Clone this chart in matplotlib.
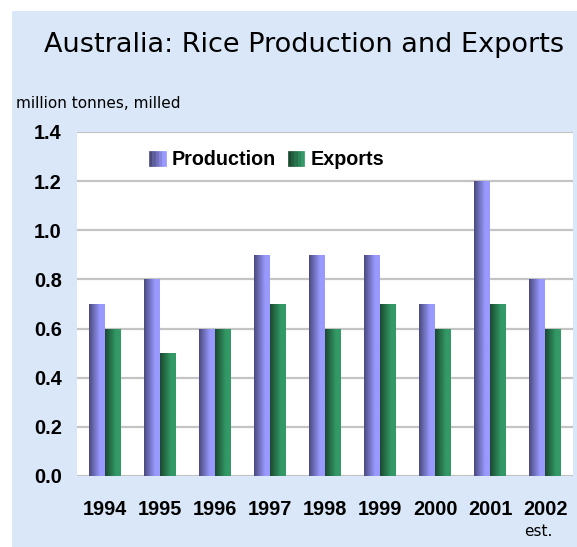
import numpy as np
import matplotlib
matplotlib.use('Agg')
import matplotlib.pyplot as plt
from matplotlib.patches import Rectangle
from matplotlib.colors import LinearSegmentedColormap
from matplotlib.legend_handler import HandlerTuple

# data
years = ['1994', '1995', '1996', '1997', '1998', '1999', '2000', '2001', '2002']
production = [0.7, 0.8, 0.6, 0.9, 0.9, 0.9, 0.7, 1.2, 0.8]
exports = [0.6, 0.5, 0.6, 0.7, 0.6, 0.7, 0.6, 0.7, 0.6]

prod_dark, prod_light = '#4a4a7e', '#9999ff'
exp_dark, exp_light = '#1b4a30', '#339966'

fig = plt.figure(figsize=(5.77, 5.47), dpi=100)
fig.patch.set_facecolor('white')
# light blue backdrop
fig.add_artist(Rectangle((12 / 577, 0), 1, 1 - 11 / 547, transform=fig.transFigure,
                         facecolor='#d9e7f8', edgecolor='none', zorder=-5))

ax = fig.add_axes([0.1334, 0.1298, 0.8596, 0.6289])
ax.set_zorder(2)
ax.set_facecolor('white')

x = np.arange(len(years))
w = 0.29
bars_p = ax.bar(x - w / 2, production, w, color=prod_light, zorder=2)
bars_e = ax.bar(x + w / 2, exports, w, color=exp_light, zorder=2)


def shade(bars, dark, light):
    cmap = LinearSegmentedColormap.from_list('c', [(0, dark), (0.7, light), (1, light)])
    grad = np.linspace(0, 1, 64).reshape(1, -1)
    for b in bars:
        x0, y0 = b.get_x(), b.get_y()
        im = ax.imshow(grad, cmap=cmap, aspect='auto', zorder=3,
                       extent=(x0, x0 + b.get_width(), y0, y0 + b.get_height()))
        im.set_clip_path(b)


shade(bars_p, prod_dark, prod_light)
shade(bars_e, exp_dark, exp_light)

ax.set_xlim(-0.5, len(years) - 0.5)
ax.set_ylim(0, 1.4)
ax.set_yticks(np.arange(0, 1.41, 0.2))
ax.set_yticklabels(['%.1f' % v for v in np.arange(0, 1.41, 0.2)])
ax.set_xticks(x)
ax.set_xticklabels(years)
for s in ax.spines.values():
    s.set_visible(False)
ax.grid(axis='y', color='#c4c4c4', lw=1.6, zorder=1)
ax.set_axisbelow(True)
ax.tick_params(length=0)
ax.tick_params(axis='x', pad=17, labelsize=14.3)
ax.tick_params(axis='y', pad=11, labelsize=14.3)
for t in ax.get_xticklabels() + ax.get_yticklabels():
    t.set_fontweight('bold')
    t.set_family('Liberation Sans')

# legend with stripes to suggest the shading
def stripes(dark, light, n=5):
    cols = LinearSegmentedColormap.from_list('c', [dark, light])(np.linspace(0, 1, n))
    return tuple(Rectangle((0, 0), 1, 1, facecolor=c, edgecolor=c, lw=0.5) for c in cols)


ax.legend([stripes(prod_dark, prod_light), stripes(exp_dark, exp_light)],
          ['Production', 'Exports'],
          handler_map={tuple: HandlerTuple(ndivide=None, pad=0)},
          loc='center left', bbox_to_anchor=(0.145, 0.919), ncol=2, frameon=False,
          borderaxespad=0, borderpad=0,
          handlelength=0.85, handleheight=0.85, handletextpad=0.3, columnspacing=0.6,
          prop={'family': 'Liberation Sans', 'weight': 'bold', 'size': 14.2})

fig.text(0.527, 1 - 45 / 547, 'Australia: Rice Production and Exports', ha='center', va='center',
         fontsize=19.5, family='DejaVu Sans')
fig.text(16 / 577, 1 - 103 / 547, 'million tonnes, milled', ha='left', va='center',
         fontsize=11, family='DejaVu Sans')
fig.text(538 / 577, 1 - 532 / 547, 'est.', ha='center', va='center',
         fontsize=11, family='DejaVu Sans')

fig.savefig('out.png', dpi=100)
